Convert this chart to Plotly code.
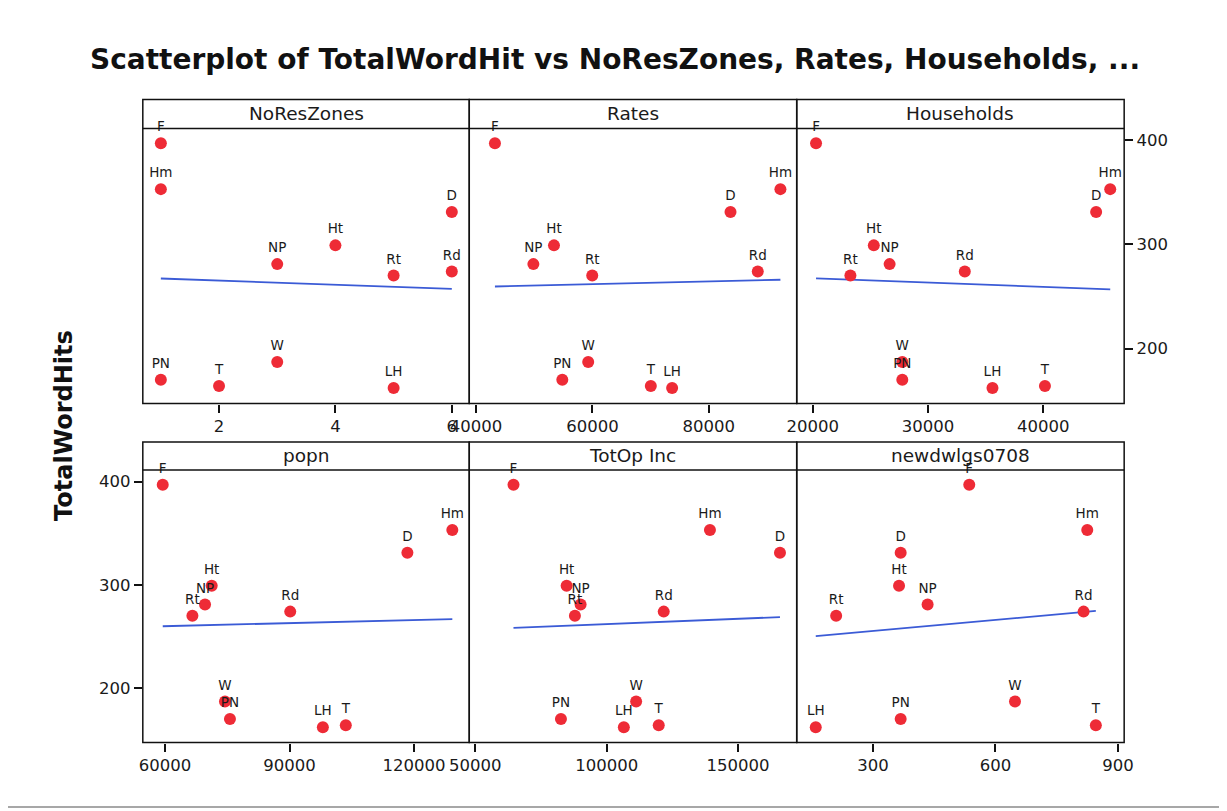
import numpy as np
import plotly.graph_objects as go

W, H = 1227, 811

# ---------------- data ----------------
labels = ["F", "Hm", "D", "Ht", "NP", "Rd", "Rt", "W", "PN", "T", "LH"]
total_word_hits = [397, 353, 331, 299, 281, 274, 270, 187, 170, 164, 162]

no_res_zones = [1, 1, 6, 4, 3, 6, 5, 3, 1, 2, 5]
rates = [43260, 92290, 83720, 53400, 49860, 88400, 59970, 59280, 54830, 70030, 73690]
households = [20290, 45800, 44580, 25300, 26670, 33190, 23270, 27770, 27770, 40140, 35590]
popn = [59440, 129220, 118390, 71240, 69630, 90160, 66590, 74440, 75640, 103550, 98020]
totop_inc = [64550, 139280, 165920, 84760, 90080, 121700, 87910, 111200, 82600, 119800, 106520]
newdwlgs0708 = [536, 825, 368, 364, 434, 816, 210, 648, 368, 846, 160]

panel_names = ["NoResZones", "Rates", "Households", "popn", "TotOp Inc", "newdwlgs0708"]
panel_x = [no_res_zones, rates, households, popn, totop_inc, newdwlgs0708]
panel_ticks = [[2, 4, 6], [40000, 60000, 80000], [20000, 30000, 40000],
               [60000, 90000, 120000], [50000, 100000, 150000], [300, 600, 900]]
panel_xrange = [[0.69, 6.30], [38850, 95090], [18615, 47010],
                [54640, 133300], [47720, 172290], [113.4, 915.4]]
y_ticks = [200, 300, 400]
y_range = [147.2, 411.2]

title = "Scatterplot of TotalWordHit vs NoResZones, Rates, Households, ..."
y_title = "TotalWordHits"

# ---------------- layout geometry (target pixels in the page) ----------------
col_edges = [141, 468, 796, 1124]
rows = [  # strip top, plot top, plot bottom
    (99.5, 128.5, 403.5),
    (442.0, 470.0, 742.5),
]

# the drawing area observed in the page: starts at (26, 8), 1200 px wide
OX, OY, PW, PH = 26.0, 8.0, 1200.0, 811.0

def px(x):
    return (x - OX) / PW

def py(y):
    return 1 - (y - OY) / PH

RED = "#EE2B36"
BLUE = "#3B5BD6"
FONT = "DejaVu Sans"
TXT = "#1a1a1a"

fig = go.Figure()
shapes = []
annotations = []
layout_axes = {}

for i in range(6):
    r, c = divmod(i, 3)
    n = i + 1
    xa = "x" if n == 1 else f"x{n}"
    ya = "y" if n == 1 else f"y{n}"
    xs = panel_x[i]
    # least-squares fit line
    b, a = np.polyfit(np.array(xs, float), np.array(total_word_hits, float), 1)
    xl = np.array([min(xs), max(xs)], float)
    fig.add_trace(go.Scatter(
        x=xl, y=a + b * xl, mode="lines", line=dict(color=BLUE, width=1.8),
        xaxis=xa, yaxis=ya, showlegend=False, hoverinfo="skip"))
    fig.add_trace(go.Scatter(
        x=xs, y=total_word_hits, mode="markers+text", text=labels,
        textposition="top center", cliponaxis=False,
        textfont=dict(family=FONT, size=13.5, color=TXT),
        marker=dict(color=RED, size=12, line=dict(width=0)),
        xaxis=xa, yaxis=ya, showlegend=False, hoverinfo="skip"))

    x0, x1 = col_edges[c], col_edges[c + 1]
    st, pt, pb = rows[r]
    layout_axes["xaxis" if n == 1 else f"xaxis{n}"] = dict(
        domain=[px(x0), px(x1)], range=panel_xrange[i], anchor=ya,
        tickvals=panel_ticks[i], tickformat="d", ticks="outside", ticklen=8,
        tickwidth=1.5, tickcolor="#111", showgrid=False, zeroline=False,
        showline=False, tickfont=dict(family=FONT, size=16.5, color=TXT))
    ydict = dict(domain=[py(pb), py(pt)], range=y_range, anchor=xa,
                 showgrid=False, zeroline=False, showline=False,
                 tickvals=y_ticks, tickfont=dict(family=FONT, size=16.5, color=TXT))
    if (r == 0 and c == 2):
        ydict.update(side="right", ticks="outside", ticklen=8, tickwidth=1.5,
                     tickcolor="#111", showticklabels=True)
    elif (r == 1 and c == 0):
        ydict.update(side="left", ticks="outside", ticklen=8, tickwidth=1.5,
                     tickcolor="#111", showticklabels=True)
    else:
        ydict.update(ticks="", showticklabels=False)
    layout_axes["yaxis" if n == 1 else f"yaxis{n}"] = ydict

    # panel frame and strip
    shapes.append(dict(type="rect", xref="paper", yref="paper",
                       x0=px(x0), x1=px(x1), y0=py(pb), y1=py(st),
                       line=dict(color="#111", width=1.5), layer="above"))
    shapes.append(dict(type="line", xref="paper", yref="paper",
                       x0=px(x0), x1=px(x1), y0=py(pt), y1=py(pt),
                       line=dict(color="#111", width=1.5), layer="above"))
    annotations.append(dict(text=panel_names[i], xref="paper", yref="paper",
                            x=px((x0 + x1) / 2), y=py((st + pt) / 2),
                            xanchor="center", yanchor="middle", showarrow=False,
                            font=dict(family=FONT, size=18.5, color=TXT)))

# outer frame
shapes.append(dict(type="rect", xref="paper", yref="paper",
                   x0=px(4), x1=px(1223), y0=py(807), y1=py(2),
                   line=dict(color="#8a8a8a", width=1.5), layer="below"))

annotations.append(dict(text=f"<b>{title}</b>", xref="paper", yref="paper",
                        x=px(614), y=py(60), xanchor="center", yanchor="middle",
                        showarrow=False, font=dict(family=FONT, size=28, color="#111")))
annotations.append(dict(text=f"<b>{y_title}</b>", xref="paper", yref="paper",
                        x=px(62), y=py(425), xanchor="center", yanchor="middle",
                        textangle=-90, showarrow=False,
                        font=dict(family=FONT, size=24, color="#111")))

fig.update_layout(width=W, height=H, margin=dict(l=0, r=0, t=0, b=0),
                  paper_bgcolor="white", plot_bgcolor="white",
                  shapes=shapes, annotations=annotations, **layout_axes)

fig.write_html("out.html")
